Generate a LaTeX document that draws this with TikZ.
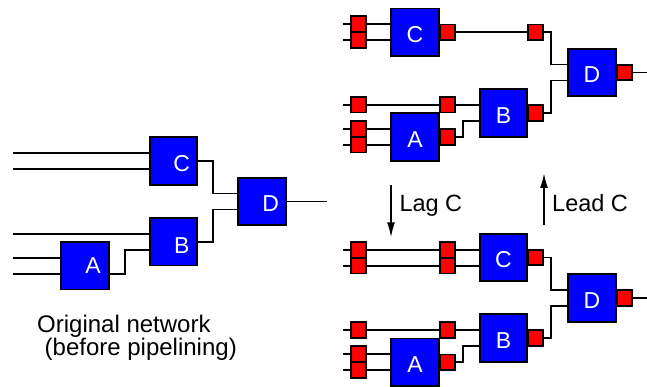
\documentclass[tikz,border=0pt]{standalone}
\usepackage{fontspec}
\setmainfont{Liberation Sans}
\usetikzlibrary{arrows.meta,calc}
\pgfdeclarelayer{wires}
\pgfsetlayers{wires,main}
\tikzset{
  x=1pt,y=-1pt,
  lw/.style={line width=1.8pt,line join=miter},
  box/.style={draw=black,fill=blue,lw,minimum size=47.5pt,inner sep=0pt,outer sep=0pt,text=white,text height=20.5pt,font=\fontsize{23}{23}\selectfont},
  reg/.style={draw=black,fill=red,lw,minimum size=15.5pt,inner sep=0pt,outer sep=0pt},
  wire/.style={draw=black,lw},
  boxlab/.style={text=white,font=\fontsize{23}{23}\selectfont,inner sep=0pt},
  lab/.style={font=\fontsize{23.5}{23.5}\selectfont,inner sep=0pt,anchor=base west,text=black},
  captext/.style={font=\fontsize{24}{24}\selectfont,inner sep=0pt,anchor=base west,text=black},
  move/.style={draw=black,line width=1.8pt,-{Latex[length=15pt,width=8pt]}}
}
\begin{document}
\begin{tikzpicture}
\useasboundingbox (0,0) rectangle (647,387);
% ---------- left: original network
\node[box] (lC) at (173.5,161) {};
\node[box] (lB) at (173.5,241.7) {};
\node[box] (lA) at (85,265.7) {};
\node[box] (lD) at (262,201.5) {};
\node[boxlab] (lCt) at (181.7,163.5) {C};
\node[boxlab] (lBt) at (181.7,246) {B};
\node[boxlab] (lAt) at (93,266) {A};
\node[boxlab] (lDt) at (270.7,204) {D};
\coordinate (li1) at (13,153);
\coordinate (li2) at (13,169);
\coordinate (li3) at (13,233.7);
\coordinate (li4) at (13,257.7);
\coordinate (li5) at (13,273.7);
\coordinate (lo) at (327,201.5);
\begin{pgfonlayer}{wires}
\draw[wire] (li1) -- (li1 -| lC.west);
\draw[wire] (li2) -- (li2 -| lC.west);
\draw[wire] (li3) -- (li3 -| lB.west);
\draw[wire] (li4) -- (li4 -| lA.west);
\draw[wire] (li5) -- (li5 -| lA.west);
\draw[wire] (lC.east) -- ++(16,0) |- ([yshift=8pt]lD.west);
\draw[wire] (lB.east) -- ++(16,0) |- ([yshift=-8pt]lD.west);
\draw[wire] ([yshift=-8pt]lA.east) -- ++(16,0) |- ([yshift=-8pt]lB.west);
\draw[wire] (lD.east) -- (lo);
\end{pgfonlayer}
\node[captext] (cap1) at (37,332.3) {Original network};
\node[captext] (cap2) at (44.5,355.3) {(before pipelining)};
% ---------- right top: after lead
\node[box] (tC) at (415,32.3) {C};
\node[box] (tD) at (592,72.5) {D};
\node[box] (tB) at (503.5,113) {B};
\node[box] (tA) at (415,137) {A};
\node[reg] (tr1) at (358.5,24) {};
\node[reg] (tr2) at (358.5,40) {};
\node[reg] (tr3) at (447.5,32.3) {};
\node[reg] (tr4) at (535.5,32.3) {};
\node[reg] (tr5) at (624.5,72.5) {};
\node[reg] (tr6) at (358.5,104.7) {};
\node[reg] (tr7) at (447.5,104.7) {};
\node[reg] (tr8) at (358.5,128.7) {};
\node[reg] (tr9) at (358.5,144.7) {};
\node[reg] (tr10) at (447.5,137) {};
\node[reg] (tr11) at (535.5,113) {};
\coordinate (ti1) at (343,24);
\coordinate (ti2) at (343,40);
\coordinate (ti3) at (343,104.7);
\coordinate (ti4) at (343,128.7);
\coordinate (ti5) at (343,144.7);
\coordinate (to) at (647,72.5);
\begin{pgfonlayer}{wires}
\draw[wire] (ti1) -- (ti1 -| tC.west);
\draw[wire] (ti2) -- (ti2 -| tC.west);
\draw[wire] (ti3) -- (ti3 -| tB.west);
\draw[wire] (ti4) -- (ti4 -| tA.west);
\draw[wire] (ti5) -- (ti5 -| tA.west);
\draw[wire] (tr3.east) -- (tr4.west);
\draw[wire] (tr4.east) -- ++(8,0) |- ([yshift=8pt]tD.west);
\draw[wire] (tr11.east) -- ++(8,0) |- ([yshift=-8pt]tD.west);
\draw[wire] (tr10.east) -- ++(8,0) |- ([yshift=-8pt]tB.west);
\draw[wire] (tr5.east) -- (to);
\end{pgfonlayer}
% ---------- right bottom: after lag
\node[box] (bC) at (503.5,257.5) {C};
\node[box] (bD) at (592,298) {D};
\node[box] (bB) at (503.5,338) {B};
\node[box] (bA) at (415,362.3) {A};
\node[reg] (br1) at (358.5,249.7) {};
\node[reg] (br2) at (358.5,265.7) {};
\node[reg] (br3) at (447.5,249.7) {};
\node[reg] (br4) at (447.5,265.7) {};
\node[reg] (br5) at (535.5,257.5) {};
\node[reg] (br6) at (624.5,298) {};
\node[reg] (br7) at (358.5,330) {};
\node[reg] (br8) at (447.5,330) {};
\node[reg] (br9) at (358.5,354) {};
\node[reg] (br10) at (358.5,370) {};
\node[reg] (br11) at (447.5,362.3) {};
\node[reg] (br12) at (535.5,338) {};
\coordinate (bi1) at (343,249.7);
\coordinate (bi2) at (343,265.7);
\coordinate (bi3) at (343,330);
\coordinate (bi4) at (343,354);
\coordinate (bi5) at (343,370);
\coordinate (bo) at (647,298);
\begin{pgfonlayer}{wires}
\draw[wire] (bi1) -- (bi1 -| bC.west);
\draw[wire] (bi2) -- (bi2 -| bC.west);
\draw[wire] (bi3) -- (bi3 -| bB.west);
\draw[wire] (bi4) -- (bi4 -| bA.west);
\draw[wire] (bi5) -- (bi5 -| bA.west);
\draw[wire] (br5.east) -- ++(8,0) |- ([yshift=8pt]bD.west);
\draw[wire] (br12.east) -- ++(8,0) |- ([yshift=-8pt]bD.west);
\draw[wire] (br11.east) -- ++(8,0) |- ([yshift=-8pt]bB.west);
\draw[wire] (br6.east) -- (bo);
\end{pgfonlayer}
% ---------- moves
\coordinate (lagS) at (391,185);
\coordinate (lagE) at (391,237.5);
\coordinate (leadS) at (544,225);
\coordinate (leadE) at (544,173);
\draw[move] (lagS) -- (lagE);
\draw[move] (leadS) -- (leadE);
\node[lab] (lagT) at (399.3,211.5) {Lag C};
\node[lab] (leadT) at (552,211.5) {Lead C};
\end{tikzpicture}
\end{document}
